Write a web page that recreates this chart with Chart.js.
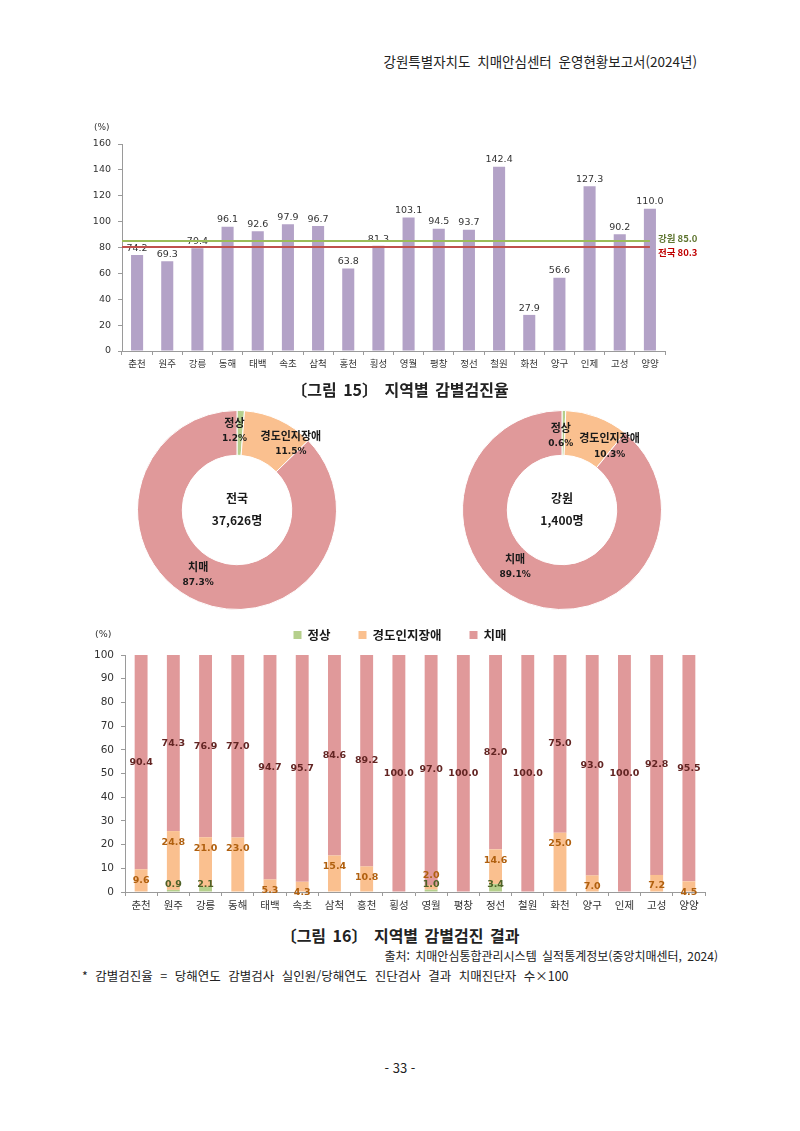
<!DOCTYPE html>
<html lang="ko">
<head>
<meta charset="utf-8">
<title>지역별 감별검진</title>
<script src="https://cdn.jsdelivr.net/npm/chart.js@4.4.1/dist/chart.umd.min.js"></script>
<style>
    body { margin: 0; width: 800px; height: 1131px; position: relative; background: #fff; color: #222;
           font-family: "Noto Sans CJK KR", "Noto Sans", sans-serif; }
    .txt { position: absolute; white-space: nowrap; }
    canvas { position: absolute; }
    .caption { font-size: 16px; font-weight: bold; left: 0; width: 800px; text-align: center; word-spacing: 2px; }
</style>
</head>
<body>
<div class="txt" style="right:103px; top:51px; font-size:13.5px; word-spacing:3px;">강원특별자치도 치매안심센터 운영현황보고서(2024년)</div>

<canvas id="rateChart" style="left:80px; top:118px;" width="640" height="260"></canvas>
<div class="txt caption" style="top:377px;">〔그림 15〕 지역별 감별검진율</div>

<canvas id="nationalDonut" style="left:127px; top:400px;" width="220" height="220"></canvas>
<canvas id="gangwonDonut" style="left:452px; top:400px;" width="220" height="220"></canvas>

<canvas id="resultChart" style="left:80px; top:622px;" width="640" height="298"></canvas>
<div class="txt caption" style="top:923px;">〔그림 16〕 지역별 감별검진 결과</div>

<div class="txt" style="right:82px; top:947px; font-size:12px; word-spacing:2px;">출처: 치매안심통합관리시스템 실적통계정보(중앙치매센터, 2024)</div>
<div class="txt" style="left:82px; top:966px; font-size:12.5px; word-spacing:4px;">* 감별검진율 = 당해연도 감별검사 실인원/당해연도 진단검사 결과 치매진단자 수×100</div>
<div class="txt" style="left:0; width:800px; text-align:center; top:1058px; font-size:13px;">- 33 -</div>

<script>
// Regions (x axis of both bar charts)
const regions = ['춘천', '원주', '강릉', '동해', '태백', '속초', '삼척', '홍천', '횡성',
                 '영월', '평창', '정선', '철원', '화천', '양구', '인제', '고성', '양양'];

// Figure 15: screening rate (%)
const screeningRates = [74.2, 69.3, 79.4, 96.1, 92.6, 97.9, 96.7, 63.8, 81.3,
                        103.1, 94.5, 93.7, 142.4, 27.9, 56.6, 127.3, 90.2, 110.0];
const gangwonRate = 85.0;
const nationalRate = 80.3;

// Donuts: result shares (%)
const resultLabels = ['정상', '경도인지장애', '치매'];
const nationalShares = [1.2, 11.5, 87.3];
const gangwonShares = [0.6, 10.3, 89.1];
const nationalTotal = '37,626명';
const gangwonTotal = '1,400명';

// Figure 16: result by region (%)
const normalPct = [0, 0.9, 2.1, 0, 0, 0, 0, 0, 0, 1.0, 0, 3.4, 0, 0, 0, 0, 0, 0];
const mciPct = [9.6, 24.8, 21.0, 23.0, 5.3, 4.3, 15.4, 10.8, 0, 2.0, 0, 14.6, 0, 25.0, 7.0, 0, 7.2, 4.5];
const dementiaPct = [90.4, 74.3, 76.9, 77.0, 94.7, 95.7, 84.6, 89.2, 100.0,
                     97.0, 100.0, 82.0, 100.0, 75.0, 93.0, 100.0, 92.8, 95.5];

// Colors
const colors = {
    purple: '#b3a2c7',
    green: '#b5cf8c',
    orange: '#fac08f',
    pink: '#e0999a',
    greenLine: '#9bbb59',
    redLine: '#c0504d',
    axis: '#9a9a9a'
};

const numFont = '"DejaVu Sans", sans-serif';
const korFont = '"Noto Sans CJK KR", sans-serif';

// "(%)" unit label above the y axis
function unitLabel(dx, dy, size) {
    return {
        id: 'unitLabel',
        afterDraw(chart) {
            const ctx = chart.ctx;
            ctx.save();
            ctx.font = size + 'px ' + numFont;
            ctx.fillStyle = '#333';
            ctx.textAlign = 'left';
            ctx.textBaseline = 'middle';
            ctx.fillText('(%)', chart.chartArea.left + dx, chart.chartArea.top + dy);
            ctx.restore();
        }
    };
}

// Value labels on top of the rate bars
const rateValueLabels = {
    id: 'rateValueLabels',
    afterDatasetsDraw(chart) {
        const ctx = chart.ctx;
        const meta = chart.getDatasetMeta(0);
        ctx.save();
        ctx.font = '9.5px ' + numFont;
        ctx.fillStyle = '#333';
        ctx.textAlign = 'center';
        ctx.textBaseline = 'bottom';
        meta.data.forEach((bar, i) => {
            ctx.fillText(screeningRates[i].toFixed(1), bar.x, bar.y - 2);
        });
        ctx.restore();
    }
};

// Gangwon / national reference lines
const referenceLines = {
    id: 'referenceLines',
    afterDatasetsDraw(chart) {
        const ctx = chart.ctx;
        const y = chart.scales.y;
        const bars = chart.getDatasetMeta(0).data;
        const x0 = chart.chartArea.left;
        const x1 = bars[bars.length - 1].x;
        const lines = [
            { value: gangwonRate, color: colors.greenLine, text: '강원 ' + gangwonRate.toFixed(1), textColor: '#5f7530', dy: -3 },
            { value: nationalRate, color: colors.redLine, text: '전국 ' + nationalRate.toFixed(1), textColor: '#c00000', dy: 5 }
        ];
        ctx.save();
        lines.forEach(l => {
            const py = y.getPixelForValue(l.value);
            ctx.strokeStyle = l.color;
            ctx.lineWidth = 2;
            ctx.beginPath();
            ctx.moveTo(x0, py);
            ctx.lineTo(x1, py);
            ctx.stroke();
            ctx.font = 'bold 9.5px ' + korFont;
            ctx.fillStyle = l.textColor;
            ctx.textAlign = 'left';
            ctx.textBaseline = 'middle';
            ctx.fillText(l.text, x1 + 8, py + l.dy);
        });
        ctx.restore();
    }
};

function initRateChart() {
    new Chart(document.getElementById('rateChart'), {
        type: 'bar',
        data: {
            labels: regions,
            datasets: [{
                data: screeningRates,
                backgroundColor: colors.purple,
                barPercentage: 0.4,
                categoryPercentage: 1.0
            }]
        },
        options: {
            responsive: false,
            animation: false,
            layout: { padding: { top: 26, right: 55, bottom: 0, left: 0 } },
            plugins: { legend: { display: false }, tooltip: { enabled: false } },
            scales: {
                x: {
                    grid: { offset: true, drawOnChartArea: false, tickLength: 4, color: colors.axis },
                    border: { color: colors.axis },
                    ticks: { font: { family: korFont, size: 9.5 }, color: '#333', padding: 3, maxRotation: 0 },
                    afterFit(scale) { scale.height = 27; }
                },
                y: {
                    min: 0,
                    max: 160,
                    grid: { drawOnChartArea: false, tickLength: 4, color: colors.axis },
                    border: { color: colors.axis },
                    ticks: { stepSize: 20, font: { family: numFont, size: 9.5 }, color: '#333', padding: 7 },
                    afterFit(scale) { scale.width = 42; }
                }
            }
        },
        plugins: [rateValueLabels, referenceLines, unitLabel(-28, -16, 9)]
    });
}

// Donut slice labels and center text
function donutText(title, total, nudges) {
    return {
        id: 'donutText',
        afterDraw(chart) {
            const ctx = chart.ctx;
            const meta = chart.getDatasetMeta(0);
            const values = chart.data.datasets[0].data;
            const cx = meta.data[0].x;
            const cy = meta.data[0].y;
            const r = meta.data[0].outerRadius;
            ctx.save();
            ctx.fillStyle = '#1a1a1a';
            ctx.textAlign = 'center';
            ctx.textBaseline = 'middle';
            ctx.font = 'bold 12px ' + korFont;
            ctx.fillText(title, cx, cy - 12);
            ctx.fillText(total, cx, cy + 10);
            meta.data.forEach((arc, i) => {
                const n = nudges[i];
                const a = (arc.startAngle + arc.endAngle) / 2 + n.angle * Math.PI / 180;
                const x = cx + Math.cos(a) * r * n.radius;
                const y = cy + Math.sin(a) * r * n.radius;
                ctx.font = 'bold 11px ' + korFont;
                ctx.fillText(chart.data.labels[i], x, y - 8);
                ctx.font = 'bold 9px ' + numFont;
                ctx.fillText(values[i].toFixed(1) + '%', x, y + 8);
            });
            ctx.restore();
        }
    };
}

function initDonut(id, shares, title, total, nudges) {
    new Chart(document.getElementById(id), {
        type: 'doughnut',
        data: {
            labels: resultLabels,
            datasets: [{
                data: shares,
                backgroundColor: [colors.green, colors.orange, colors.pink],
                borderColor: '#fff',
                borderWidth: 1
            }]
        },
        options: {
            responsive: false,
            animation: false,
            cutout: '55%',
            layout: { padding: 10 },
            plugins: { legend: { display: false }, tooltip: { enabled: false } }
        },
        plugins: [donutText(title, total, nudges)]
    });
}

// Segment labels on the stacked bars
const stackLabels = {
    id: 'stackLabels',
    afterDatasetsDraw(chart) {
        const ctx = chart.ctx;
        const labelColors = ['#4f6228', '#b0600f', '#632523'];
        ctx.save();
        ctx.font = 'bold 9.5px ' + numFont;
        ctx.textAlign = 'center';
        ctx.textBaseline = 'middle';
        chart.data.datasets.forEach((ds, d) => {
            const meta = chart.getDatasetMeta(d);
            meta.data.forEach((bar, i) => {
                const v = ds.data[i];
                if (!v) return;
                let y;
                if (d === 2) {
                    y = (bar.y + bar.base) / 2;
                } else if (d === 1) {
                    y = bar.y + 11;
                    if (normalPct[i] > 0) y = Math.min(y, bar.base - 14);
                } else {
                    y = bar.base - 7;
                }
                ctx.fillStyle = labelColors[d];
                ctx.fillText(v.toFixed(1), bar.x, y);
            });
        });
        ctx.restore();
    }
};

// Legend drawn above the plot, centred on the canvas
const stackLegend = {
    id: 'stackLegend',
    afterDraw(chart) {
        const ctx = chart.ctx;
        const items = chart.data.datasets;
        const box = 8, gap = 6, spacing = 28;
        ctx.save();
        ctx.font = 'bold 12.5px ' + korFont;
        const widths = items.map(ds => box + gap + ctx.measureText(ds.label).width);
        const total = widths.reduce((a, b) => a + b, 0) + spacing * (items.length - 1);
        let x = (chart.width - total) / 2;
        const y = 13;
        ctx.textBaseline = 'middle';
        ctx.textAlign = 'left';
        items.forEach((ds, i) => {
            ctx.fillStyle = ds.backgroundColor;
            ctx.fillRect(x, y - box / 2, box, box);
            ctx.fillStyle = '#1a1a1a';
            ctx.fillText(ds.label, x + box + gap, y);
            x += widths[i] + spacing;
        });
        ctx.restore();
    }
};

function initResultChart() {
    new Chart(document.getElementById('resultChart'), {
        type: 'bar',
        data: {
            labels: regions,
            datasets: [
                { label: '정상', data: normalPct, backgroundColor: colors.green },
                { label: '경도인지장애', data: mciPct, backgroundColor: colors.orange },
                { label: '치매', data: dementiaPct, backgroundColor: colors.pink }
            ].map(ds => Object.assign(ds, { barPercentage: 0.4, categoryPercentage: 1.0 }))
        },
        options: {
            responsive: false,
            animation: false,
            layout: { padding: { top: 33, right: 15, bottom: 0, left: 0 } },
            plugins: { legend: { display: false }, tooltip: { enabled: false } },
            scales: {
                x: {
                    stacked: true,
                    grid: { offset: true, drawOnChartArea: false, tickLength: 4, color: colors.axis },
                    border: { color: colors.axis },
                    ticks: { font: { family: korFont, size: 10.5 }, color: '#333', padding: 3, maxRotation: 0 },
                    afterFit(scale) { scale.height = 28; }
                },
                y: {
                    stacked: true,
                    min: 0,
                    max: 100,
                    grid: { drawOnChartArea: false, tickLength: 4, color: colors.axis },
                    border: { color: colors.axis },
                    ticks: { stepSize: 10, font: { family: numFont, size: 10.5 }, color: '#333', padding: 7 },
                    afterFit(scale) { scale.width = 45; }
                }
            }
        },
        plugins: [stackLabels, stackLegend, unitLabel(-30, -20, 9.5)]
    });
}

// Draw everything when page loads
document.addEventListener('DOMContentLoaded', () => {
    initRateChart();
    initDonut('nationalDonut', nationalShares, '전국', nationalTotal,
        [{ angle: -4, radius: 0.8 }, { angle: 14, radius: 0.86 }, { angle: 8, radius: 0.76 }]);
    initDonut('gangwonDonut', gangwonShares, '강원', gangwonTotal,
        [{ angle: -2, radius: 0.75 }, { angle: 16, radius: 0.8 }, { angle: 20, radius: 0.74 }]);
    initResultChart();
});
</script>
</body>
</html>
